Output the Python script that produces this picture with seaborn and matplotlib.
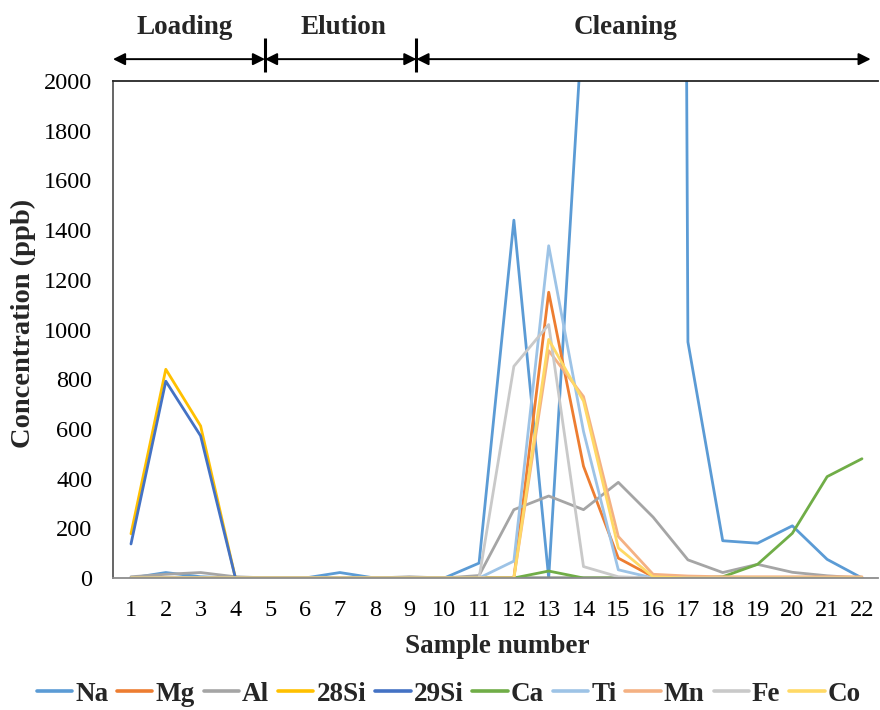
import matplotlib
matplotlib.use("Agg")
import matplotlib.pyplot as plt
from matplotlib.transforms import blended_transform_factory
import numpy as np
import pandas as pd
import seaborn as sns

# ---- data ---------------------------------------------------------------
samples = list(range(1, 23))
elements = ["Na", "Mg", "Al", "28Si", "29Si", "Ca", "Ti", "Mn", "Fe", "Co"]

na = [0, 22, 5, 0, 0, 0, 22, 0, 0, 0, 60, 1440, 0, 2300, 6500, 30000,
      950, 150, 140, 210, 75, 0]
mg = [0, 0, 0, 0, 0, 0, 0, 0, 0, 0, 0, 0, 1150, 450, 80, 5,
      0, 0, 0, 0, 0, 0]
al = [5, 15, 22, 5, 0, 0, 0, 0, 5, 0, 10, 275, 330, 275, 385, 245,
      73, 22, 55, 23, 9, 0]
si28 = [178, 840, 612, 0, 0, 0, 0, 0, 0, 0, 0, 0, 0, 0, 0, 0,
        0, 0, 0, 0, 0, 0]
si29 = [137, 792, 572, 0, 0, 0, 0, 0, 0, 0, 0, 0, 0, 0, 0, 0,
        0, 0, 0, 0, 0, 0]
ca = [0, 0, 0, 0, 0, 0, 0, 0, 0, 0, 0, 0, 28, 0, 0, 0,
      0, 5, 55, 180, 408, 480]
ti = [0, 0, 0, 0, 0, 0, 0, 0, 0, 0, 0, 68, 1337, 590, 33, 0,
      0, 0, 0, 0, 0, 0]
mn = [0, 0, 0, 0, 0, 0, 0, 0, 0, 0, 0, 0, 915, 730, 167, 15,
      8, 5, 5, 5, 5, 5]
fe = [0, 0, 0, 0, 0, 0, 0, 0, 0, 0, 0, 852, 1020, 46, 5, 0,
      0, 0, 0, 0, 0, 0]
co = [0, 0, 0, 0, 0, 0, 0, 0, 0, 0, 0, 0, 960, 712, 121, 5,
      0, 0, 0, 0, 0, 0]

series = [na, mg, al, si28, si29, ca, ti, mn, fe, co]
colors = ["#5B9BD5", "#ED7D31", "#A5A5A5", "#FFC000", "#4472C4",
          "#70AD47", "#9DC3E6", "#F4B183", "#C9C9C9", "#FFD966"]

y_ticks = list(range(0, 2001, 200))

# phases of the run along the sample axis
phase_names = ["Loading", "Elution", "Cleaning"]
phase_label_x = [2.55, 7.1, 15.2]
phase_edges = [0.483, 4.85, 9.2, 22.25]

df = pd.DataFrame({
    "Sample number": np.tile(samples, len(elements)),
    "Concentration (ppb)": np.concatenate(series),
    "Element": np.repeat(elements, len(samples)),
})

# ---- figure -------------------------------------------------------------
sns.set_theme(style="white")
plt.rcParams["font.family"] = ["Liberation Serif", "DejaVu Serif"]

fig = plt.figure(figsize=(8.8, 7.1), dpi=100)
ax = fig.add_axes([0.1284, 0.1859, 0.8693, 0.7000])

sns.lineplot(data=df, x="Sample number", y="Concentration (ppb)",
             hue="Element", hue_order=elements,
             palette=dict(zip(elements, colors)),
             linewidth=2.0, ax=ax, legend=True)

ax.set_xlim(0.483, 22.46)
ax.set_ylim(0, 2000)
ax.set_xticks(samples)
ax.set_yticks(y_ticks)
ax.tick_params(axis="both", which="both", length=0, labelsize=17.5,
               labelcolor="black")
ax.tick_params(axis="y", pad=15)
ax.tick_params(axis="x", pad=16)

ax.spines["right"].set_visible(False)
ax.spines["left"].set_color("#595959")
ax.spines["left"].set_linewidth(1.3)
ax.spines["bottom"].set_color("#8C8C8C")
ax.spines["bottom"].set_linewidth(1.3)
ax.spines["top"].set_color("#262626")
ax.spines["top"].set_linewidth(1.3)

ax.set_xlabel("Sample number", fontsize=19.5, fontweight="bold")
ax.set_ylabel("Concentration (ppb)", fontsize=20.5, fontweight="bold")
ax.xaxis.label.set_va("center")
ax.yaxis.label.set_va("center")
ax.xaxis.set_label_coords(0.502, -0.137)
ax.yaxis.set_label_coords(-0.117, 0.513)

# phase arrows and separators above the plot
trans = blended_transform_factory(ax.transData, ax.transAxes)
arrow_y = 1.044
for a, b in zip(phase_edges[:-1], phase_edges[1:]):
    ax.annotate("", xy=(b, arrow_y), xytext=(a, arrow_y),
                xycoords=trans, textcoords=trans, annotation_clip=False,
                arrowprops=dict(arrowstyle="<|-|>,head_length=0.4,head_width=0.2",
                                color="black", lw=1.4, shrinkA=0, shrinkB=0,
                                mutation_scale=18))
for edge in phase_edges[1:-1]:
    ax.plot([edge, edge], [1.018, 1.087], transform=trans, color="black",
            lw=2.2, clip_on=False, solid_capstyle="butt")
for name, xpos in zip(phase_names, phase_label_x):
    ax.text(xpos, 1.107, name, transform=trans, ha="center", va="center",
            fontsize=19.5, fontweight="bold")

sns.move_legend(ax, "center", bbox_to_anchor=(0.51, 0.022),
                bbox_transform=fig.transFigure, ncol=len(elements),
                frameon=False, title=None, fontsize=19.5,
                handlelength=1.3, handletextpad=0.12, columnspacing=0.33,
                borderpad=0, borderaxespad=0)
for txt in ax.get_legend().get_texts():
    txt.set_fontweight("bold")
for line in ax.get_legend().get_lines():
    line.set_linewidth(2.6)

fig.savefig("out.png", dpi=100)
